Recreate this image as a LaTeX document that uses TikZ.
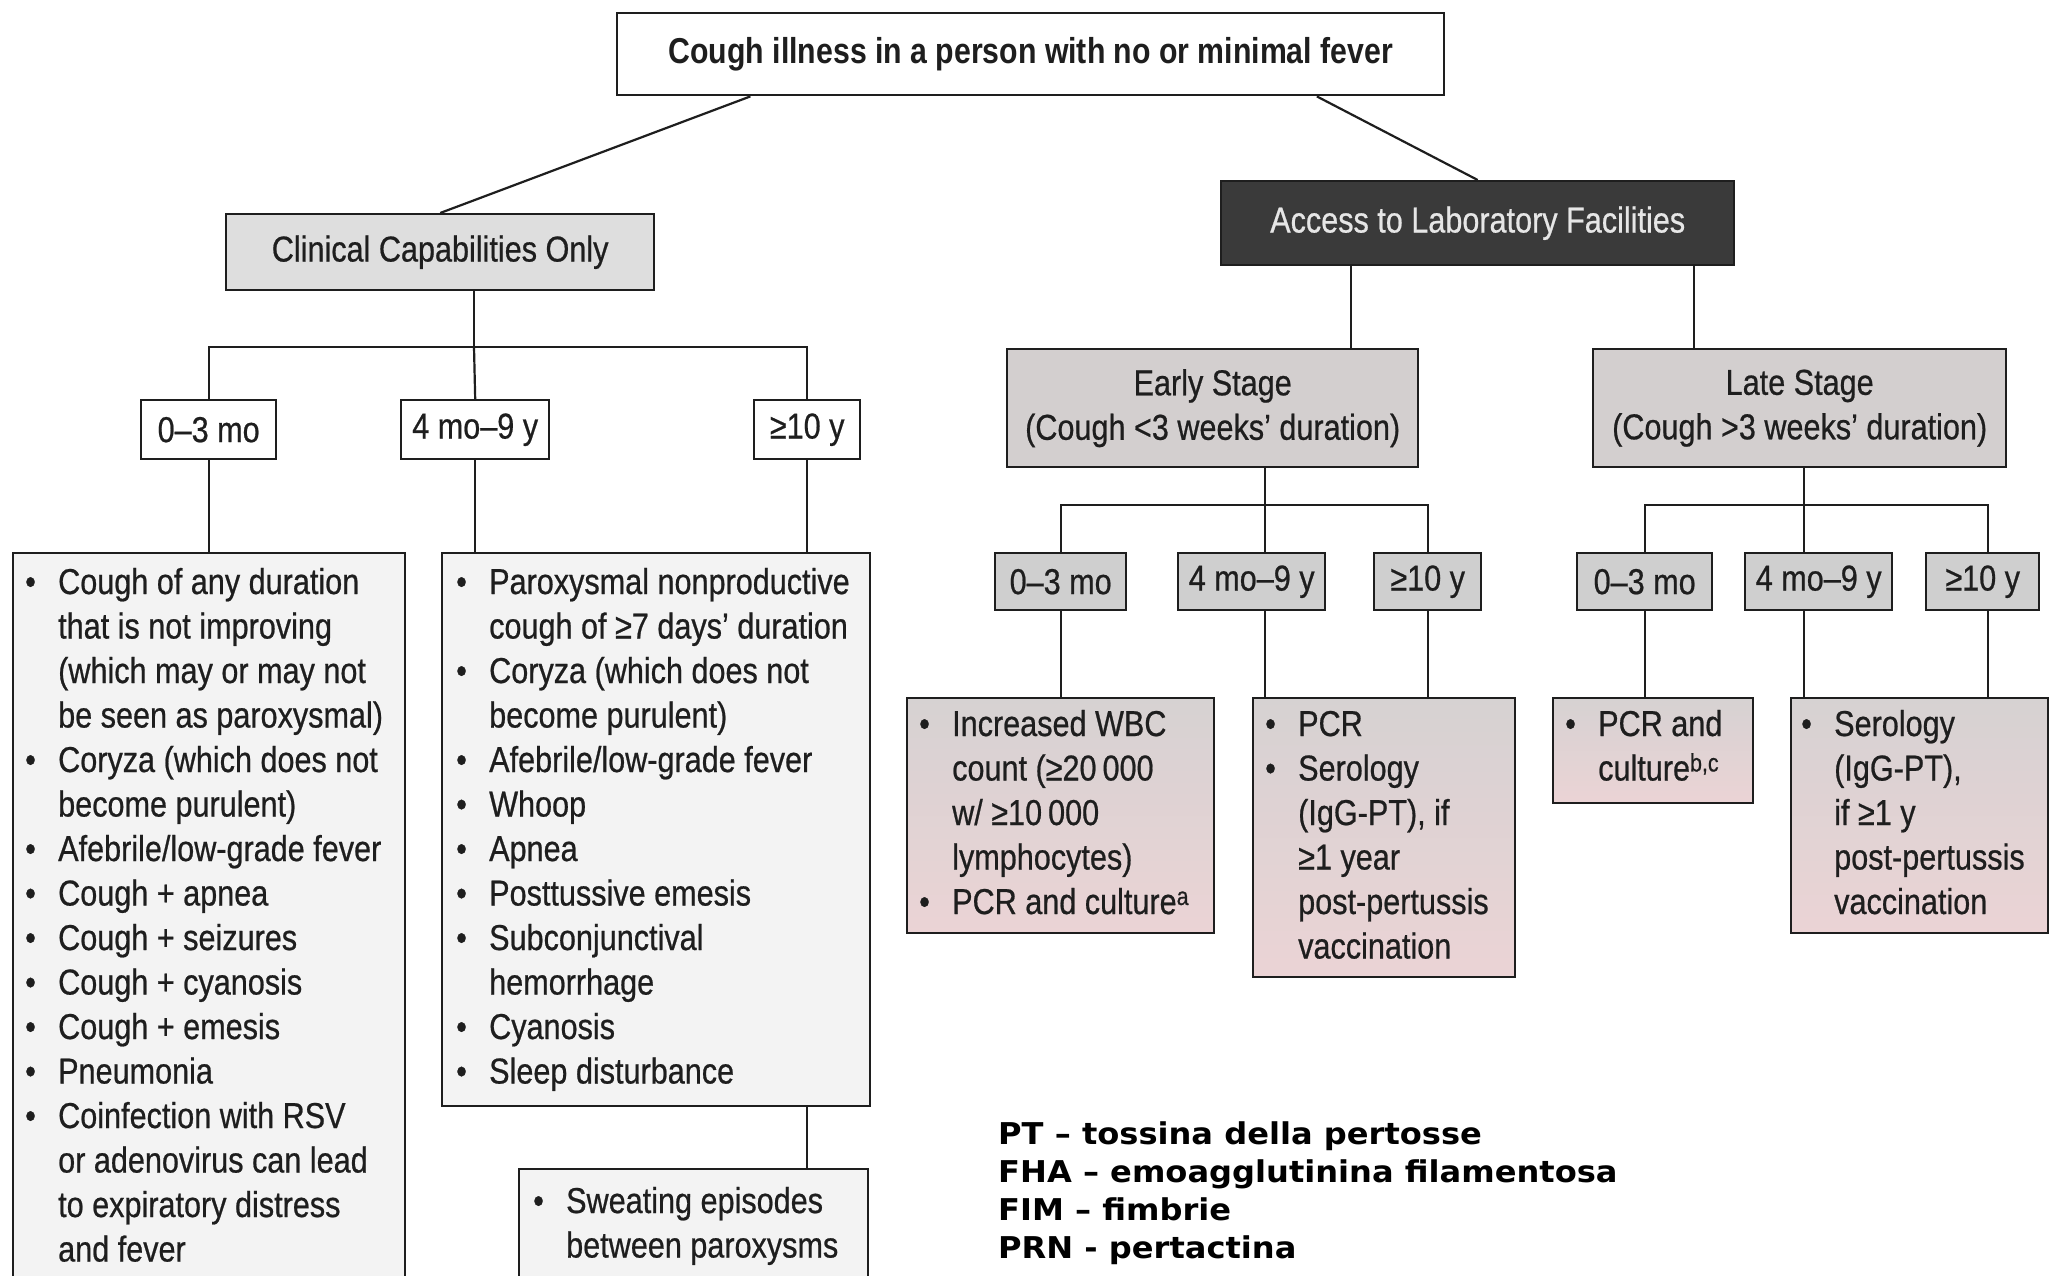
\documentclass[tikz,border=0pt]{standalone}
\usepackage{fontspec}
\setmainfont[FakeStretch=0.85,FakeBold=0.6]{Liberation Sans}
\newfontfamily\topfont[FakeStretch=0.84]{Liberation Sans}
\newfontfamily\legfont[FakeStretch=1.07]{DejaVu Sans}
\usetikzlibrary{calc}
\definecolor{ink}{HTML}{1E1E1E}
\definecolor{clinfill}{HTML}{DEDEDE}
\definecolor{labfill}{HTML}{3A3A3A}
\definecolor{labtext}{HTML}{E6E6E6}
\definecolor{stagefill}{HTML}{D3CFCF}
\definecolor{agefill}{HTML}{CFCFCF}
\definecolor{bigfill}{HTML}{F3F3F3}
\definecolor{restop}{HTML}{D6D2D2}
\definecolor{resbot}{HTML}{EBD3D5}
\newcommand{\bxfont}{\fontsize{36}{44.5}\selectfont}
\newcommand{\bu}{\makebox[33pt][l]{\textbullet}}
\begin{document}
\begin{tikzpicture}[x=1pt,y=-1pt,
  bx/.style={draw=ink, line width=2.4pt, inner sep=0pt, anchor=north west, text=ink, font=\bxfont, align=center},
  res/.style={bx, top color=restop, bottom color=resbot},
  ln/.style={draw=ink, line width=2.2pt},
  tx/.style={inner sep=0pt, anchor=base west, text=ink, font=\bxfont},
]
\clip (0,0) rectangle (2051,1275);
\fill[white] (0,0) rectangle (2051,1275);

% top level
\node[bx, minimum width=827, minimum height=82, font=\topfont\bfseries\fontsize{36}{44.5}\selectfont] (top) at (616,12) {Cough illness in a person with no or minimal fever};
\node[bx, fill=clinfill, minimum width=428, minimum height=76] (clin) at (225,213) {Clinical Capabilities Only};
\node[bx, fill=labfill, text=labtext, minimum width=513, minimum height=84] (lab) at (1220,180) {Access to Laboratory Facilities};
\draw[ln] ($(top.south west)!0.162!(top.south east)$) -- (clin.north);
\draw[ln] ($(top.south west)!0.845!(top.south east)$) -- (lab.north);

% clinical branch
\node[bx, minimum width=135, minimum height=59] (a1) at (140,399) {0–3 mo};
\node[bx, minimum width=148, minimum height=59] (a2) at (400,399) {4 mo–9 y};
\node[bx, minimum width=106, minimum height=59] (a3) at (753,399) {≥10 y};
\coordinate (cj) at (474,347);
\draw[ln] (clin.south -| cj) -- (cj);
\draw[ln] (a1.north) |- (cj) -| (a3.north);
\draw[ln] (cj) -- (a2.north);

\node[bx, fill=bigfill, minimum width=392, minimum height=780] (big1) at (12,552) {};
\node[bx, fill=bigfill, minimum width=428, minimum height=553] (big2) at (441,552) {};
\node[bx, fill=bigfill, minimum width=349, minimum height=160] (sweat) at (518,1168) {};
\draw[ln] (a1.south) -- (a1.south |- big1.north);
\draw[ln] (a2.south) -- (a2.south |- big2.north);
\draw[ln] (a3.south) -- (a3.south |- big2.north);
\draw[ln] (a3.south |- big2.south) -- (a3.south |- sweat.north);

\node[tx] (t1) at ($(big1.north west)+(13,42)$) {\begin{tabular}[t]{@{}l@{}l@{}}
\bu & Cough of any duration\\
 & that is not improving\\
 & (which may or may not\\
 & be seen as paroxysmal)\\
\bu & Coryza (which does not\\
 & become purulent)\\
\bu & Afebrile/low-grade fever\\
\bu & Cough + apnea\\
\bu & Cough + seizures\\
\bu & Cough + cyanosis\\
\bu & Cough + emesis\\
\bu & Pneumonia\\
\bu & Coinfection with RSV\\
 & or adenovirus can lead\\
 & to expiratory distress\\
 & and fever
\end{tabular}};
\node[tx] (t2) at ($(big2.north west)+(15,42)$) {\begin{tabular}[t]{@{}l@{}l@{}}
\bu & Paroxysmal nonproductive\\
 & cough of ≥7 days’ duration\\
\bu & Coryza (which does not\\
 & become purulent)\\
\bu & Afebrile/low-grade fever\\
\bu & Whoop\\
\bu & Apnea\\
\bu & Posttussive emesis\\
\bu & Subconjunctival\\
 & hemorrhage\\
\bu & Cyanosis\\
\bu & Sleep disturbance
\end{tabular}};
\node[tx] (t3) at ($(sweat.north west)+(15,45)$) {\begin{tabular}[t]{@{}l@{}l@{}}
\bu & Sweating episodes\\
 & between paroxysms
\end{tabular}};

% laboratory branch
\node[bx, fill=stagefill, minimum width=411, minimum height=118] (early) at (1006,348) {Early Stage\\(Cough <3 weeks’ duration)};
\node[bx, fill=stagefill, minimum width=413, minimum height=118] (late) at (1592,348) {Late Stage\\(Cough >3 weeks’ duration)};
\coordinate (lx1) at (1351,0);
\coordinate (lx2) at (1694,0);
\draw[ln] (lab.south -| lx1) -- (early.north -| lx1);
\draw[ln] (lab.south -| lx2) -- (late.north -| lx2);

\node[bx, fill=agefill, minimum width=131, minimum height=57] (e1) at (994,552) {0–3 mo};
\node[bx, fill=agefill, minimum width=147, minimum height=57] (e2) at (1177,552) {4 mo–9 y};
\node[bx, fill=agefill, minimum width=107, minimum height=57] (e3) at (1373,552) {≥10 y};
\node[bx, fill=agefill, minimum width=135, minimum height=57] (l1) at (1576,552) {0–3 mo};
\node[bx, fill=agefill, minimum width=147, minimum height=57] (l2) at (1744,552) {4 mo–9 y};
\node[bx, fill=agefill, minimum width=113, minimum height=57] (l3) at (1925,552) {≥10 y};

\coordinate (ej) at (1265,505);
\coordinate (lj) at (1804,505);
\coordinate (lx3) at (1988,0);
\draw[ln] (early.south -| ej) -- (e2.north -| ej);
\draw[ln] (e1.north) |- (ej) -| (e3.north);
\draw[ln] (late.south -| lj) -- (l2.north -| lj);
\draw[ln] (l1.north) |- (lj) -| (l3.north -| lx3);

\node[res, minimum width=307, minimum height=235] (r1) at (906,697) {};
\node[res, minimum width=262, minimum height=279] (r2) at (1252,697) {};
\node[res, minimum width=200, minimum height=105] (r3) at (1552,697) {};
\node[res, minimum width=257, minimum height=235] (r4) at (1790,697) {};
\draw[ln] (e1.south) -- (e1.south |- r1.north);
\draw[ln] (e2.south -| ej) -- (r2.north -| ej);
\draw[ln] (e3.south) -- (e3.south |- r2.north);
\draw[ln] (l1.south) -- (l1.south |- r3.north);
\draw[ln] (l2.south -| lj) -- (r4.north -| lj);
\draw[ln] (l3.south -| lx3) -- (r4.north -| lx3);

\node[tx] (t4) at ($(r1.north west)+(13,39)$) {\begin{tabular}[t]{@{}l@{}l@{}}
\bu & Increased WBC\\
 & count (≥20\,000\\
 & w/ ≥10\,000\\
 & lymphocytes)\\
\bu & PCR and culture\textsuperscript{a}
\end{tabular}};
\node[tx] (t5) at ($(r2.north west)+(13,39)$) {\begin{tabular}[t]{@{}l@{}l@{}}
\bu & PCR\\
\bu & Serology\\
 & (IgG-PT), if\\
 & ≥1 year\\
 & post-pertussis\\
 & vaccination
\end{tabular}};
\node[tx] (t6) at ($(r3.north west)+(13,39)$) {\begin{tabular}[t]{@{}l@{}l@{}}
\bu & PCR and\\
 & culture\textsuperscript{b,c}
\end{tabular}};
\node[tx] (t7) at ($(r4.north west)+(11,39)$) {\begin{tabular}[t]{@{}l@{}l@{}}
\bu & Serology\\
 & (IgG-PT),\\
 & if ≥1 y\\
 & post-pertussis\\
 & vaccination
\end{tabular}};

% legend
\node[anchor=north west, inner sep=0pt, align=left, text=black, font=\legfont\bfseries\fontsize{30}{38}\selectfont] (leg) at (998,1121) {PT – tossina della pertosse\\FHA – emoagglutinina filamentosa\\FIM – fimbrie\\PRN - pertactina};
\end{tikzpicture}
\end{document}
